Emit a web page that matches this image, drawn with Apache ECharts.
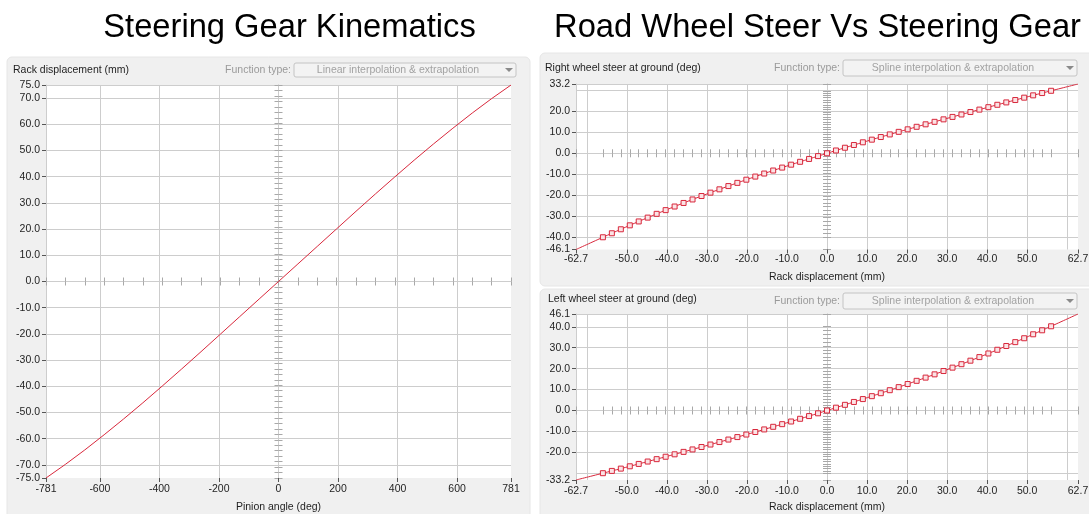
<!DOCTYPE html>
<html>
<head>
<meta charset="utf-8">
<script src="https://cdn.jsdelivr.net/npm/echarts@6/dist/echarts.min.js"></script>
<style>
  html, body { margin: 0; padding: 0; background: #ffffff; }
  #chart { width: 1089px; height: 514px; }
</style>
</head>
<body>
<div id="chart"></div>
<script>
// ---- Steering gear: pinion angle (deg) -> rack displacement (mm), linear interpolation
const pinionAngle = [-781, -715.9, -650.8, -585.8, -520.7, -455.6, -390.5, -325.4, -260.3, -195.3, -130.2, -65.1,
                     0, 65.1, 130.2, 195.3, 260.3, 325.4, 390.5, 455.6, 520.7, 585.8, 650.8, 715.9, 781];
const rackDisplacement = [-75, -69.8, -64.3, -58.5, -52.5, -46.3, -39.9, -33.4, -26.8, -20.1, -13.4, -6.7,
                          0, 6.7, 13.4, 20.1, 26.8, 33.4, 39.9, 46.3, 52.5, 58.5, 64.3, 69.8, 75];

// ---- Road wheel steer vs rack displacement (mm), spline interpolation
const rackTravel = [-62.7, -55.98, -53.74, -51.5, -49.26, -47.03, -44.79, -42.55, -40.31, -38.07, -35.83, -33.59,
                    -31.35, -29.11, -26.87, -24.63, -22.39, -20.15, -17.91, -15.68, -13.44, -11.2, -8.96, -6.72,
                    -4.48, -2.24, 0, 2.24, 4.48, 6.72, 8.96, 11.2, 13.44, 15.68, 17.91, 20.15, 22.39, 24.63,
                    26.87, 29.11, 31.35, 33.59, 35.83, 38.07, 40.31, 42.55, 44.79, 47.03, 49.26, 51.5, 53.74,
                    55.98, 62.7];
const rightWheelSteer = [-46.1, -40.24, -38.32, -36.41, -34.52, -32.66, -30.82, -29.01, -27.24, -25.51, -23.8, -22.12,
                         -20.48, -18.86, -17.27, -15.71, -14.17, -12.65, -11.16, -9.7, -8.26, -6.85, -5.46, -4.08,
                         -2.71, -1.35, 0, 1.34, 2.66, 3.96, 5.26, 6.53, 7.79, 9.04, 10.27, 11.48, 12.69, 13.88,
                         15.07, 16.26, 17.43, 18.6, 19.77, 20.93, 22.09, 23.24, 24.38, 25.52, 26.65, 27.76, 28.86,
                         29.95, 33.2];
const leftWheelSteer = [-33.2, -29.95, -28.86, -27.76, -26.65, -25.52, -24.38, -23.24, -22.09, -20.93, -19.77, -18.6,
                        -17.43, -16.26, -15.07, -13.88, -12.69, -11.48, -10.27, -9.04, -7.79, -6.53, -5.26, -3.96,
                        -2.66, -1.34, 0, 1.35, 2.71, 4.08, 5.46, 6.85, 8.26, 9.7, 11.16, 12.65, 14.17, 15.71,
                        17.27, 18.86, 20.48, 22.12, 23.8, 25.51, 27.24, 29.01, 30.82, 32.66, 34.52, 36.41, 38.32,
                        40.24, 46.1];

// ---- Tick labels
const pinionTicks = [-781, -600, -400, -200, 0, 200, 400, 600, 781];
const rackTicksLeft = [-75, -70, -60, -50, -40, -30, -20, -10, 0, 10, 20, 30, 40, 50, 60, 70, 75];
const rackTicksRight = [-62.7, -50, -40, -30, -20, -10, 0, 10, 20, 30, 40, 50, 62.7];
const rightSteerTicks = [-46.1, -40, -30, -20, -10, 0, 10, 20, 33.2];
const leftSteerTicks = [-33.2, -20, -10, 0, 10, 20, 30, 40, 46.1];

// ---- Grid line positions
const pinionGrid = [-781, -600, -400, -200, 200, 400, 600];
const rackGridLeft = [-70, -60, -50, -40, -30, -20, -10, 10, 20, 30, 40, 50, 60, 70, 75];
const rackGridRight = [-62.7, -60, -50, -40, -30, -20, -10, 10, 20, 30, 40, 50, 60];
const rightSteerGrid = [-40, -30, -20, -10, 10, 20, 30, 33.2];
const leftSteerGrid = [-30, -20, -10, 10, 20, 30, 40, 46.1];

// Fine scale marks along the vertical zero line of the gear plot (36 steps each way)
const rackZeroMarks = [];
for (let i = -36; i <= 36; i++) rackZeroMarks.push(75 * i / 36);

const FONT = '"Liberation Sans", Arial, sans-serif';
const GRID_COLOR = '#cdcdcd';
const TEXT_COLOR = '#1e1e1e';
const CURVE_COLOR = '#d8283c';

const fmtInt = v => String(Math.round(v));
const fmt1 = v => Number(v).toFixed(1);

const panels = [
  {
    grid: { left: 46, top: 85, width: 465, height: 393 },
    xMin: -781, xMax: 781, yMin: -75, yMax: 75,
    xLabels: pinionTicks, yLabels: rackTicksLeft, xGrid: pinionGrid, yGrid: rackGridLeft,
    xZero: pinionAngle, yZero: rackZeroMarks,
    xFmt: fmtInt, yFmt: fmt1, xName: 'Pinion angle (deg)', labelMargin: 6, nameGap: 24
  },
  {
    grid: { left: 576, top: 84, width: 502, height: 165.5 },
    xMin: -62.7, xMax: 62.7, yMin: -46.1, yMax: 33.2,
    xLabels: rackTicksRight, yLabels: rightSteerTicks, xGrid: rackGridRight, yGrid: rightSteerGrid,
    xZero: rackTravel, yZero: rightWheelSteer,
    xFmt: fmt1, yFmt: fmt1, xName: 'Rack displacement (mm)', labelMargin: 4, nameGap: 22
  },
  {
    grid: { left: 576, top: 314, width: 502, height: 166 },
    xMin: -62.7, xMax: 62.7, yMin: -33.2, yMax: 46.1,
    xLabels: rackTicksRight, yLabels: leftSteerTicks, xGrid: rackGridRight, yGrid: leftSteerGrid,
    xZero: rackTravel, yZero: leftWheelSteer,
    xFmt: fmt1, yFmt: fmt1, xName: 'Rack displacement (mm)', labelMargin: 6, nameGap: 22
  }
];

const grid = [], xAxis = [], yAxis = [], mainAxes = [];

panels.forEach((p, gi) => {
  grid.push(Object.assign({ show: true, backgroundColor: '#ffffff', borderWidth: 0,
                            containLabel: false, outerBoundsMode: 'none' }, p.grid));
  const xBase = xAxis.length, yBase = yAxis.length;
  mainAxes.push({ x: xBase, y: yBase });

  // labelled axes
  xAxis.push({
    gridIndex: gi, type: 'value', min: p.xMin, max: p.xMax, position: 'bottom',
    axisLine: { show: false, onZero: false },
    axisTick: { show: true, customValues: p.xLabels, length: 4, lineStyle: { color: '#555' } },
    axisLabel: { customValues: p.xLabels, formatter: p.xFmt, color: TEXT_COLOR, fontSize: 10.5,
                 fontFamily: FONT, margin: p.labelMargin, hideOverlap: false },
    splitLine: { show: false },
    name: p.xName, nameLocation: 'middle', nameGap: p.nameGap,
    nameTextStyle: { color: TEXT_COLOR, fontSize: 10.5, fontFamily: FONT }
  });
  yAxis.push({
    gridIndex: gi, type: 'value', min: p.yMin, max: p.yMax, position: 'left',
    axisLine: { show: true, onZero: false, lineStyle: { color: GRID_COLOR } },
    axisTick: { show: true, customValues: p.yLabels, length: 4, lineStyle: { color: '#555' } },
    axisLabel: { customValues: p.yLabels, formatter: p.yFmt, color: TEXT_COLOR, fontSize: 10.5,
                 fontFamily: FONT, margin: 6, hideOverlap: false },
    splitLine: { show: false }
  });

  // grid lines
  xAxis.push({
    gridIndex: gi, type: 'value', min: p.xMin, max: p.xMax, position: 'bottom',
    axisLine: { show: false, onZero: false },
    axisTick: { show: false, customValues: p.xGrid },
    axisLabel: { show: false },
    splitLine: { show: true, lineStyle: { color: GRID_COLOR, width: 1 } }
  });
  yAxis.push({
    gridIndex: gi, type: 'value', min: p.yMin, max: p.yMax, position: 'left',
    axisLine: { show: false, onZero: false },
    axisTick: { show: false, customValues: p.yGrid },
    axisLabel: { show: false },
    splitLine: { show: true, lineStyle: { color: GRID_COLOR, width: 1 } }
  });

  // zero lines with scale marks on both sides
  [true, false].forEach(inside => {
    xAxis.push({
      gridIndex: gi, type: 'value', min: p.xMin, max: p.xMax, position: 'bottom',
      axisLine: { show: true, onZero: true, onZeroAxisIndex: yBase, lineStyle: { color: GRID_COLOR } },
      axisTick: { show: true, inside: inside, customValues: p.xZero, length: 4, lineStyle: { color: '#a8a8a8' } },
      axisLabel: { show: false },
      splitLine: { show: false }
    });
    yAxis.push({
      gridIndex: gi, type: 'value', min: p.yMin, max: p.yMax, position: 'left',
      axisLine: { show: true, onZero: true, onZeroAxisIndex: xBase, lineStyle: { color: GRID_COLOR } },
      axisTick: { show: true, inside: inside, customValues: p.yZero, length: 4, lineStyle: { color: '#a8a8a8' } },
      axisLabel: { show: false },
      splitLine: { show: false }
    });
  });
});

function pairs(xs, ys) { return xs.map((x, i) => [x, ys[i]]); }

function markedPoints(xs, ys) {
  // the end points are extrapolated, so they carry no marker
  return xs.map((x, i) => {
    const item = { value: [x, ys[i]] };
    if (i === 0 || i === xs.length - 1) item.symbol = 'none';
    return item;
  });
}

const series = [
  {
    type: 'line', xAxisIndex: mainAxes[0].x, yAxisIndex: mainAxes[0].y,
    data: pairs(pinionAngle, rackDisplacement),
    showSymbol: false, smooth: false, z: 5,
    lineStyle: { color: CURVE_COLOR, width: 1 }
  },
  {
    type: 'line', xAxisIndex: mainAxes[1].x, yAxisIndex: mainAxes[1].y,
    data: markedPoints(rackTravel, rightWheelSteer),
    smooth: true, showAllSymbol: true, symbol: 'rect', symbolSize: 5, z: 5,
    lineStyle: { color: CURVE_COLOR, width: 1 },
    itemStyle: { color: '#fbe3e5', borderColor: CURVE_COLOR, borderWidth: 1 }
  },
  {
    type: 'line', xAxisIndex: mainAxes[2].x, yAxisIndex: mainAxes[2].y,
    data: markedPoints(rackTravel, leftWheelSteer),
    smooth: true, showAllSymbol: true, symbol: 'rect', symbolSize: 5, z: 5,
    lineStyle: { color: CURVE_COLOR, width: 1 },
    itemStyle: { color: '#fbe3e5', borderColor: CURVE_COLOR, borderWidth: 1 }
  }
];

// Panel frames, headings and the function-type selectors
function panelRect(x, y, w, h) {
  return { type: 'rect', z: -10, shape: { x: x, y: y, width: w, height: h, r: 5 },
           style: { fill: '#f0f0f0', stroke: '#e6e6e6', lineWidth: 1 } };
}
function label(text, x, y, opts) {
  return Object.assign({ type: 'text', z: 50, x: x, y: y,
    style: Object.assign({ text: text, fill: TEXT_COLOR, font: '10.5px ' + FONT,
                           align: 'left', verticalAlign: 'middle' }, opts || {}) });
}
function selector(labelRight, boxX, boxY, boxW, boxH, text) {
  return {
    type: 'group', z: 50,
    children: [
      { type: 'text', x: labelRight, y: boxY + boxH / 2,
        style: { text: 'Function type:', fill: '#9a9a9a', font: '10.5px ' + FONT, align: 'right', verticalAlign: 'middle' } },
      { type: 'rect', shape: { x: boxX, y: boxY, width: boxW, height: boxH, r: 2 },
        style: { fill: '#f3f3f3', stroke: '#c4c4c4', lineWidth: 1 } },
      { type: 'text', x: boxX + (boxW - 14) / 2, y: boxY + boxH / 2,
        style: { text: text, fill: '#a2a2a2', font: '10.5px ' + FONT, align: 'center', verticalAlign: 'middle' } },
      { type: 'polygon', shape: { points: [[boxX + boxW - 11, boxY + boxH / 2 - 2], [boxX + boxW - 3, boxY + boxH / 2 - 2], [boxX + boxW - 7, boxY + boxH / 2 + 2]] },
        style: { fill: '#8a8a8a' } }
    ]
  };
}

const graphic = [
  panelRect(7, 57, 523, 462),
  panelRect(540, 53, 554, 233),
  panelRect(540, 289, 554, 230),
  { type: 'text', z: 50, x: 289.5, y: 28,
    style: { text: 'Steering Gear Kinematics', fill: '#000', font: '32.7px ' + FONT, align: 'center', verticalAlign: 'middle' } },
  { type: 'text', z: 50, x: 817.5, y: 28,
    style: { text: 'Road Wheel Steer Vs Steering Gear', fill: '#000', font: '32.7px ' + FONT, align: 'center', verticalAlign: 'middle' } },
  label('Rack displacement (mm)', 13, 70),
  label('Right wheel steer at ground (deg)', 545, 68),
  label('Left wheel steer at ground (deg)', 548, 299),
  selector(291, 294, 63, 222, 14, 'Linear interpolation & extrapolation'),
  selector(840, 843, 60, 234, 16, 'Spline interpolation & extrapolation'),
  selector(840, 843, 293, 234, 16, 'Spline interpolation & extrapolation')
];

const chart = echarts.init(document.getElementById('chart'), null, { renderer: 'canvas' });
chart.setOption({
  animation: false,
  backgroundColor: '#ffffff',
  textStyle: { fontFamily: FONT },
  grid: grid,
  xAxis: xAxis,
  yAxis: yAxis,
  series: series,
  graphic: graphic
});
</script>
</body>
</html>
